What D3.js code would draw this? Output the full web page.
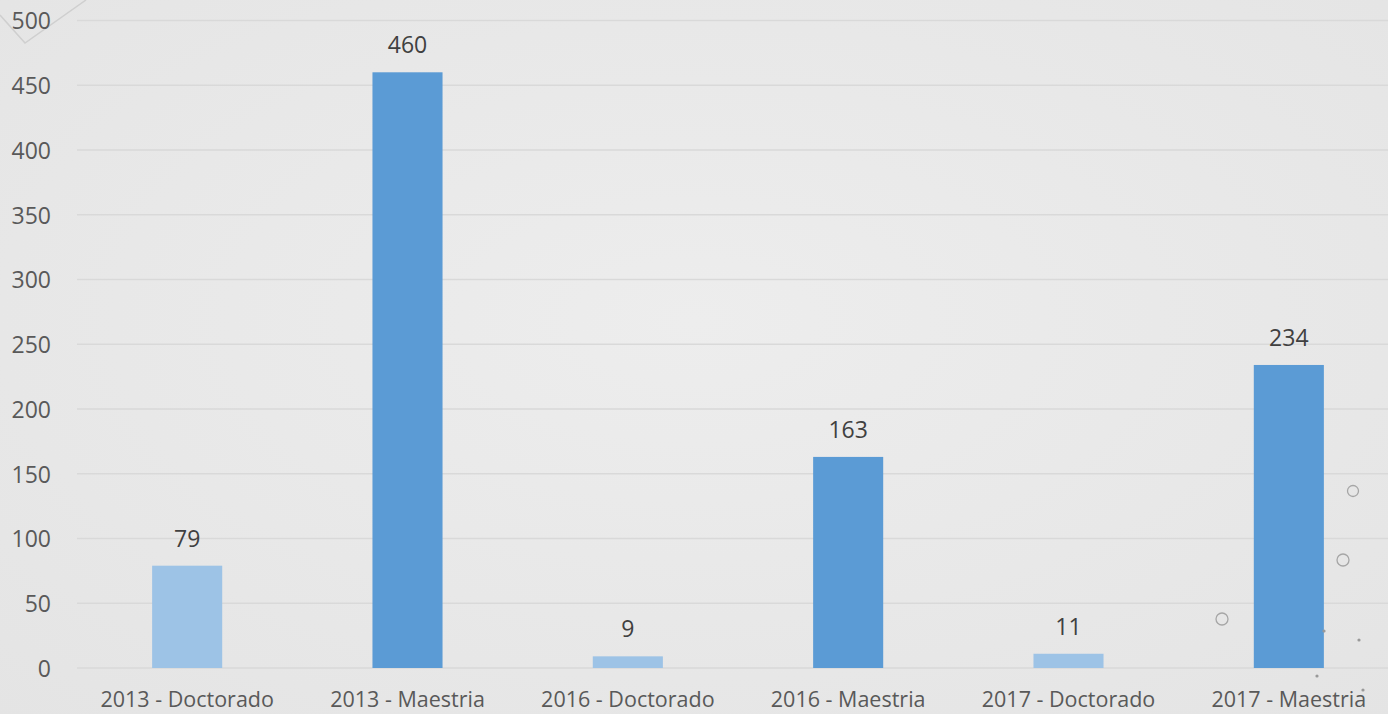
<!DOCTYPE html>
<html><head><meta charset="utf-8">
<script src="https://cdn.jsdelivr.net/npm/d3@7"></script>
<style>
html,body{margin:0;padding:0;overflow:hidden;}
svg{display:block;font-family:"Open Sans","Liberation Sans",sans-serif;}
</style></head>
<body>
<script>
const categories = ["2013 - Doctorado","2013 - Maestria","2016 - Doctorado","2016 - Maestria","2017 - Doctorado","2017 - Maestria"];
const values = [79, 460, 9, 163, 11, 234];
const barColors = ["#9dc3e6","#5b9bd5","#9dc3e6","#5b9bd5","#9dc3e6","#5b9bd5"];
const yTicks = [0,50,100,150,200,250,300,350,400,450,500];

const W = 1388, H = 714;
const FS = "23px";
const svg = d3.select("body").append("svg").attr("width", W).attr("height", H);

const defs = svg.append("defs");
const grad = defs.append("radialGradient").attr("id","bg").attr("cx","50%").attr("cy","45%").attr("r","75%");
grad.append("stop").attr("offset","0%").attr("stop-color","#ededed");
grad.append("stop").attr("offset","100%").attr("stop-color","#e4e4e4");
svg.append("rect").attr("width",W).attr("height",H).attr("fill","url(#bg)");

// decorative corner lines
svg.append("path").attr("d","M0,15 L25,43 L86,0").attr("fill","none").attr("stroke","#cfcfcf").attr("stroke-width",1.5);

const x = d3.scaleBand().domain(categories).range([77, 1399]).paddingInner(0.682).paddingOuter(0.341);
const y = d3.scaleLinear().domain([0,500]).range([668, 20.5]);

// gridlines
svg.append("g").selectAll("line").data(yTicks).join("line")
  .attr("x1",77).attr("x2",W).attr("y1",d=>y(d)).attr("y2",d=>y(d))
  .attr("stroke","#d9d9d9").attr("stroke-width",1.3);

// y axis labels
const yAxis = d3.axisLeft(y).tickValues(yTicks).tickSize(0).tickPadding(0);
const yg = svg.append("g").attr("transform","translate(51,0)").call(yAxis);
yg.select(".domain").remove();
yg.selectAll("text").attr("fill","#595959").style("font-size",FS).style("font-family","'Open Sans','Liberation Sans',sans-serif").attr("dy","0.36em");

// bars
svg.append("g").selectAll("rect").data(values).join("rect")
  .attr("x",(d,i)=>x(categories[i])).attr("width",x.bandwidth())
  .attr("y",d=>y(d)).attr("height",d=>y(0)-y(d))
  .attr("fill",(d,i)=>barColors[i]);

// value labels
svg.append("g").selectAll("text").data(values).join("text")
  .attr("x",(d,i)=>x(categories[i])+x.bandwidth()/2).attr("y",d=>y(d)-19)
  .attr("text-anchor","middle").attr("fill","#404040").style("font-size",FS)
  .text(d=>d);

// x axis labels
const xAxis = d3.axisBottom(x).tickSize(0).tickPadding(0);
const xg = svg.append("g").attr("transform","translate(0,707)").call(xAxis);
xg.select(".domain").remove();
xg.selectAll("text").attr("fill","#595959").style("font-size","21.5px").style("font-family","'Open Sans','Liberation Sans',sans-serif").attr("y",0).attr("dy","0");

// decorative circles and dots
const rings = [[1222,619,6],[1343,560,6],[1353,491,5.5]];
svg.append("g").selectAll("circle").data(rings).join("circle")
  .attr("cx",d=>d[0]).attr("cy",d=>d[1]).attr("r",d=>d[2])
  .attr("fill","none").attr("stroke","#a6a6a6").attr("stroke-width",1.3);
const dots = [[1324,631],[1359,640],[1317,676],[1363,690]];
svg.append("g").selectAll("circle").data(dots).join("circle")
  .attr("cx",d=>d[0]).attr("cy",d=>d[1]).attr("r",1.6).attr("fill","#999");
</script>
</body></html>
